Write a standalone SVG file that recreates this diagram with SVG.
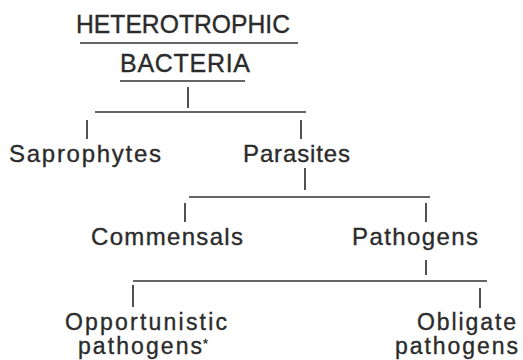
<svg xmlns="http://www.w3.org/2000/svg" width="523" height="360" viewBox="0 0 523 360">
<style>
text{font-family:"Liberation Sans",Arial,Helvetica,sans-serif;font-size:24px;fill:#2b2b2b;stroke:#2b2b2b;stroke-width:0.35;}
.t{font-size:25px;}
.b{font-size:23px;}
.c line{stroke:#333;stroke-width:1.7;stroke-linecap:butt;}
</style>
<rect width="523" height="360" fill="#fff"/>
<g id="heterotrophic-bacteria">
<text class="t" x="76" y="33" textLength="214" lengthAdjust="spacingAndGlyphs">HETEROTROPHIC</text>
<line x1="80" y1="43" x2="298" y2="43" stroke="#333" stroke-width="1.7"/>
<text class="t" x="120" y="72" textLength="130" lengthAdjust="spacing">BACTERIA</text>
</g>
<g id="saprophytes"><text x="9" y="162" textLength="152" lengthAdjust="spacing">Saprophytes</text></g>
<g id="parasites"><text x="243" y="162" textLength="107" lengthAdjust="spacing">Parasites</text></g>
<g id="commensals"><text x="91" y="245" textLength="152" lengthAdjust="spacing">Commensals</text></g>
<g id="pathogens"><text x="352" y="245" textLength="126" lengthAdjust="spacing">Pathogens</text></g>
<g id="opportunistic-pathogens">
<text class="b" x="65" y="330" textLength="162" lengthAdjust="spacing">Opportunistic</text>
<text class="b" x="78" y="354" textLength="124" lengthAdjust="spacing">pathogens</text>
<text x="203" y="348" style="font-size:12.5px">*</text>
</g>
<g id="obligate-pathogens">
<text class="b" x="417" y="330" textLength="99" lengthAdjust="spacing">Obligate</text>
<text class="b" x="395" y="354" textLength="123" lengthAdjust="spacing">pathogens</text>
</g>
<g id="connectors" class="c">
<line x1="120" y1="81" x2="245" y2="81"/>
<line x1="188" y1="87" x2="188" y2="108"/>
<line x1="95" y1="112" x2="306" y2="112"/>
<line x1="87" y1="120" x2="87" y2="139"/>
<line x1="301" y1="120" x2="301" y2="139"/>
<line x1="305" y1="168" x2="305" y2="190"/>
<line x1="189" y1="197" x2="430" y2="197"/>
<line x1="185" y1="203" x2="185" y2="222"/>
<line x1="426" y1="203" x2="426" y2="222"/>
<line x1="426" y1="260" x2="426" y2="275"/>
<line x1="133" y1="281" x2="487" y2="281"/>
<line x1="133" y1="285" x2="133" y2="307"/>
<line x1="480" y1="288" x2="480" y2="308"/>
</g>
</svg>
